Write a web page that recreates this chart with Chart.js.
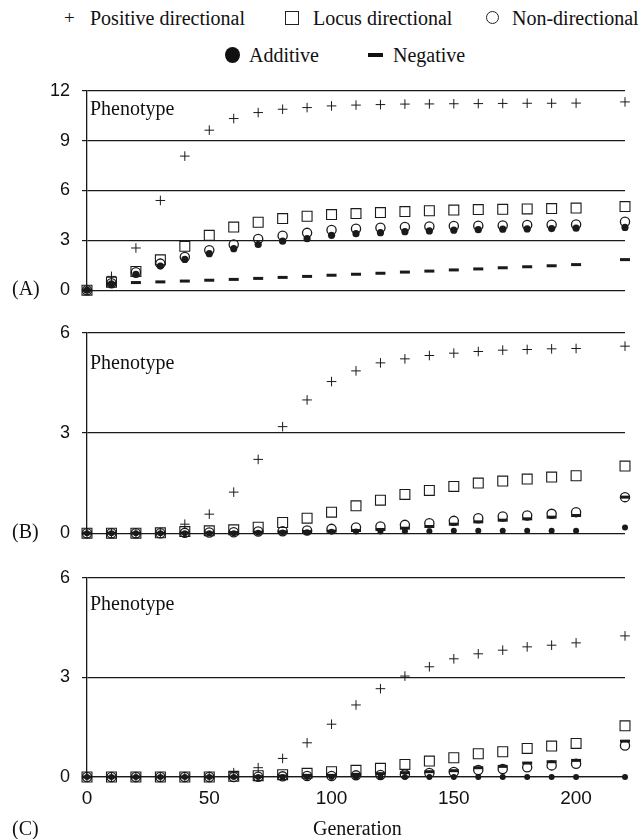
<!DOCTYPE html>
<html>
<head>
<meta charset="utf-8">
<script src="https://cdn.jsdelivr.net/npm/chart.js@4.4.1/dist/chart.umd.min.js"></script>
<style>
  body { margin:0; background:#fff; width:639px; height:839px; position:relative; overflow:hidden;
         font-family:"Liberation Serif","Times New Roman",serif; color:#111; }
  .txt { position:absolute; font-size:20px; line-height:20px; white-space:nowrap; }
  .panel { position:absolute; left:0; }
  .sq { position:absolute; width:12px; height:12px; border:1.4px solid #222; }
  .ci { position:absolute; width:11px; height:11px; border:1.6px solid #222; border-radius:50%; }
  .dot { position:absolute; width:15px; height:16px; background:#111; border-radius:50%; }
  .dash { position:absolute; width:15px; height:4px; background:#111; }
</style>
</head>
<body>

<!-- legend -->
<div class="txt" style="left:64px;top:8px;font-size:19px">+</div>
<div class="txt" style="left:90px;top:8px">Positive directional</div>
<div class="sq" style="left:285px;top:11px"></div>
<div class="txt" style="left:313px;top:8px">Locus directional</div>
<div class="ci" style="left:486px;top:11px"></div>
<div class="txt" style="left:512px;top:8px">Non-directional</div>
<div class="dot" style="left:225px;top:47px"></div>
<div class="txt" style="left:249px;top:45px">Additive</div>
<div class="dash" style="left:368px;top:53px"></div>
<div class="txt" style="left:393px;top:45px">Negative</div>

<canvas id="panelA" class="panel" style="top:68px" width="639" height="245"></canvas>
<canvas id="panelB" class="panel" style="top:310px" width="639" height="246"></canvas>
<canvas id="panelC" class="panel" style="top:555px" width="639" height="284"></canvas>

<div class="txt" style="left:90px;top:98px">Phenotype</div>
<div class="txt" style="left:90px;top:352px">Phenotype</div>
<div class="txt" style="left:90px;top:593px">Phenotype</div>
<div class="txt" style="left:12px;top:278px">(A)</div>
<div class="txt" style="left:12px;top:521px">(B)</div>
<div class="txt" style="left:12px;top:818px">(C)</div>
<div class="txt" style="left:313px;top:818px">Generation</div>

<script>
// generations sampled
const gens = [0,10,20,30,40,50,60,70,80,90,100,110,120,130,140,150,160,170,180,190,200,220];

// panel A
const posA = [0,0.83,2.54,5.4,8.07,9.63,10.33,10.69,10.89,10.99,11.09,11.14,11.17,11.2,11.21,11.22,11.23,11.24,11.25,11.25,11.26,11.33];
const locA = [0,0.48,1.13,1.83,2.64,3.3,3.8,4.09,4.31,4.45,4.55,4.61,4.67,4.73,4.78,4.82,4.85,4.87,4.89,4.91,4.94,5.03];
const nonA = [0,0.42,1.08,1.6,2.0,2.4,2.75,3.08,3.28,3.45,3.62,3.7,3.76,3.8,3.83,3.86,3.88,3.9,3.92,3.94,3.96,4.12];
const addA = [0,0.38,0.95,1.45,1.85,2.2,2.5,2.75,2.95,3.1,3.3,3.4,3.46,3.52,3.57,3.61,3.64,3.67,3.69,3.71,3.73,3.78];
const negA = [0,0.4,0.46,0.5,0.55,0.6,0.65,0.71,0.77,0.83,0.9,0.96,1.02,1.09,1.15,1.22,1.28,1.35,1.41,1.47,1.54,1.84];

// panel B
const posB = [0,0,0,0.02,0.27,0.57,1.23,2.21,3.19,3.99,4.54,4.86,5.1,5.22,5.32,5.39,5.44,5.48,5.5,5.52,5.53,5.6];
const locB = [0,0,0,0.01,0.05,0.07,0.1,0.18,0.32,0.45,0.63,0.82,0.99,1.16,1.28,1.4,1.5,1.56,1.62,1.68,1.72,2.01];
const nonB = [0,0,0,0,0.01,0.02,0.03,0.05,0.06,0.08,0.13,0.17,0.2,0.25,0.3,0.37,0.45,0.5,0.53,0.58,0.63,1.08];
const addB = [0,0,0,0,0,0,0,0.01,0.02,0.03,0.04,0.05,0.05,0.06,0.06,0.07,0.07,0.07,0.07,0.07,0.07,0.17];
const negB = [0,0,0,0,0.01,0.01,0.02,0.03,0.04,0.05,0.06,0.08,0.11,0.15,0.2,0.27,0.34,0.39,0.43,0.48,0.53,1.08];

// panel C
const posC = [0,0,0,0,0,0.02,0.13,0.28,0.56,1.03,1.59,2.17,2.66,3.04,3.32,3.56,3.71,3.82,3.92,3.97,4.04,4.25];
const locC = [0,0,0,0,0,0,0.02,0.04,0.07,0.11,0.16,0.2,0.26,0.38,0.48,0.58,0.7,0.76,0.86,0.93,1.01,1.54];
const nonC = [0,0,0,0,0,0,0,0.01,0.02,0.03,0.03,0.05,0.06,0.08,0.12,0.15,0.21,0.24,0.29,0.35,0.4,0.95];
const addC = [0,0,0,0,0,0,0,0,0,0,0,0,0,0,0,0,0,0,0,0,0,0];
const negC = [0,0,0,0,0,0,0,0.01,0.03,0.05,0.05,0.08,0.1,0.13,0.16,0.19,0.28,0.32,0.42,0.46,0.5,1.08];

const yStep = 3, xStep = 50;
const ink = '#1a1a1a';

function pts(vals) {
  return vals.map((v, i) => ({x: gens[i], y: v}));
}

function sets(pos, loc, non, add, neg, dotR) {
  return [
    {label:'Positive directional', data:pts(pos), pointStyle:'cross', pointRadius:4.8, borderColor:ink, borderWidth:1, clip:false},
    {label:'Locus directional', data:pts(loc), pointStyle:'rect', pointRadius:7, borderColor:ink, backgroundColor:'rgba(0,0,0,0)', borderWidth:1.1, clip:false},
    {label:'Non-directional', data:pts(non), pointStyle:'circle', pointRadius:4.6, borderColor:ink, backgroundColor:'rgba(0,0,0,0)', borderWidth:1.3, clip:false},
    {label:'Additive', data:pts(add), pointStyle:'circle', pointRadius:dotR, borderColor:ink, backgroundColor:ink, borderWidth:0, clip:false},
    {label:'Negative', data:pts(neg), pointStyle:'line', pointRadius:5, borderColor:ink, borderWidth:3, clip:false}
  ];
}

function makePanel(id, yMax, datasets, showX, pad) {
  new Chart(document.getElementById(id), {
    type: 'scatter',
    data: {datasets: datasets},
    options: {
      responsive: false,
      animation: false,
      layout: {padding: pad, autoPadding: false},
      plugins: {legend: {display:false}, tooltip: {enabled:false}},
      scales: {
        x: {
          type: 'linear', min: 0, max: 220, display: showX,
          grid: {display:false},
          border: {color:ink, width:1.3},
          ticks: {stepSize:xStep, includeBounds:false, color:'#111', padding:2,
                  font:{family:'"Liberation Sans", Arial, sans-serif', size:19}},
          afterFit: s => { if (showX) s.height = 30; }
        },
        y: {
          min: 0, max: yMax,
          grid: {color:ink, lineWidth:1.2, tickLength:5},
          border: {color:ink, width:1.3},
          ticks: {stepSize:yStep, color:'#111', padding:12,
                  font:{family:'"Liberation Sans", Arial, sans-serif', size:18}},
          afterFit: s => { s.width = 87; }
        }
      }
    }
  });
}

makePanel('panelA', 12, sets(posA, locA, nonA, addA, negA, 3.6), false, {top:12, right:14, bottom:11, left:0});
makePanel('panelB', 6, sets(posB, locB, nonB, addB, negB, 3), false, {top:12, right:14, bottom:10, left:0});
makePanel('panelC', 6, sets(posC, locC, nonC, addC, negC, 3), true, {top:12, right:14, bottom:32, left:0});
</script>
</body>
</html>
